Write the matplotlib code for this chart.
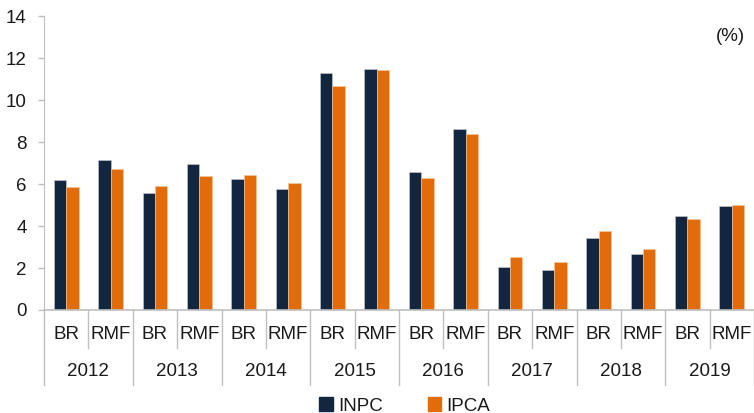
import matplotlib
matplotlib.use("Agg")
from matplotlib import pyplot as plt
from matplotlib.patches import Patch

plt.rcParams['font.family'] = ['Liberation Sans Narrow', 'Liberation Sans', 'DejaVu Sans']

years = ["2012", "2013", "2014", "2015", "2016", "2017", "2018", "2019"]
regions = ["BR", "RMF"]
# INPC and IPCA, order: BR, RMF for each year
inpc = [6.19, 7.16, 5.57, 6.94, 6.24, 5.78, 11.30, 11.48,
        6.59, 8.62, 2.06, 1.92, 3.44, 2.68, 4.49, 4.97]
ipca = [5.84, 6.70, 5.92, 6.38, 6.43, 6.03, 10.68, 11.44,
        6.29, 8.37, 2.51, 2.29, 3.76, 2.90, 4.32, 5.01]

navy = "#13263f"
orange = "#e36c0a"
grey = "#bfbfbf"
txt = "#1a1a1a"

fig = plt.figure(figsize=(7.54, 4.13), dpi=100)
ax = fig.add_axes([0.0584, 0.2494, 0.9416, 0.7117])

n = len(inpc)
x = [i + 0.5 for i in range(n)]
w = 0.28
ax.bar([v - w / 2 for v in x], inpc, width=w, color=navy, edgecolor="#c8ccd4", linewidth=0.4)
ax.bar([v + w / 2 for v in x], ipca, width=w, color=orange, edgecolor="#f5c8a0", linewidth=0.4)

ax.set_xlim(0, n)
ax.set_ylim(0, 14)
ax.set_yticks(range(0, 15, 2))
ax.tick_params(axis='y', colors=grey, labelcolor=txt, labelsize=13.5, length=4.5, width=1, pad=8)
ax.set_xticks([])
for s in ["top", "right"]:
    ax.spines[s].set_visible(False)
ax.spines["left"].set_color(grey)
ax.spines["bottom"].set_color(grey)
ax.spines["bottom"].set_linewidth(1.2)

# multi-level category axis
tr = ax.get_xaxis_transform()
short = -38 / 294
long_ = -75 / 294
for i in range(n + 1):
    ylow = long_ if i % 2 == 0 else short
    ax.plot([i, i], [0, ylow], transform=tr, color=grey, lw=1, clip_on=False)
for i in range(n):
    ax.text(i + 0.5, -25 / 294, regions[i % 2], transform=tr, ha="center", va="center",
            fontsize=13.5, color=txt)
for j, yr in enumerate(years):
    ax.text(2 * j + 1, -62 / 294, yr, transform=tr, ha="center", va="center",
            fontsize=13.5, color=txt)

ax.text(0.988, 0.93, "(%)", transform=ax.transAxes, ha="right", va="center",
        fontsize=13.5, color=txt)

handles = [Patch(color=navy, label="INPC"), Patch(color=orange, label="IPCA")]
fig.legend(handles=handles, loc="center", bbox_to_anchor=(0.537, 0.017), ncol=2,
           frameon=False, fontsize=13.5, handlelength=0.7, handleheight=0.7,
           handletextpad=0.3, columnspacing=2.4, labelcolor=txt)

fig.savefig("out.png", dpi=100)
